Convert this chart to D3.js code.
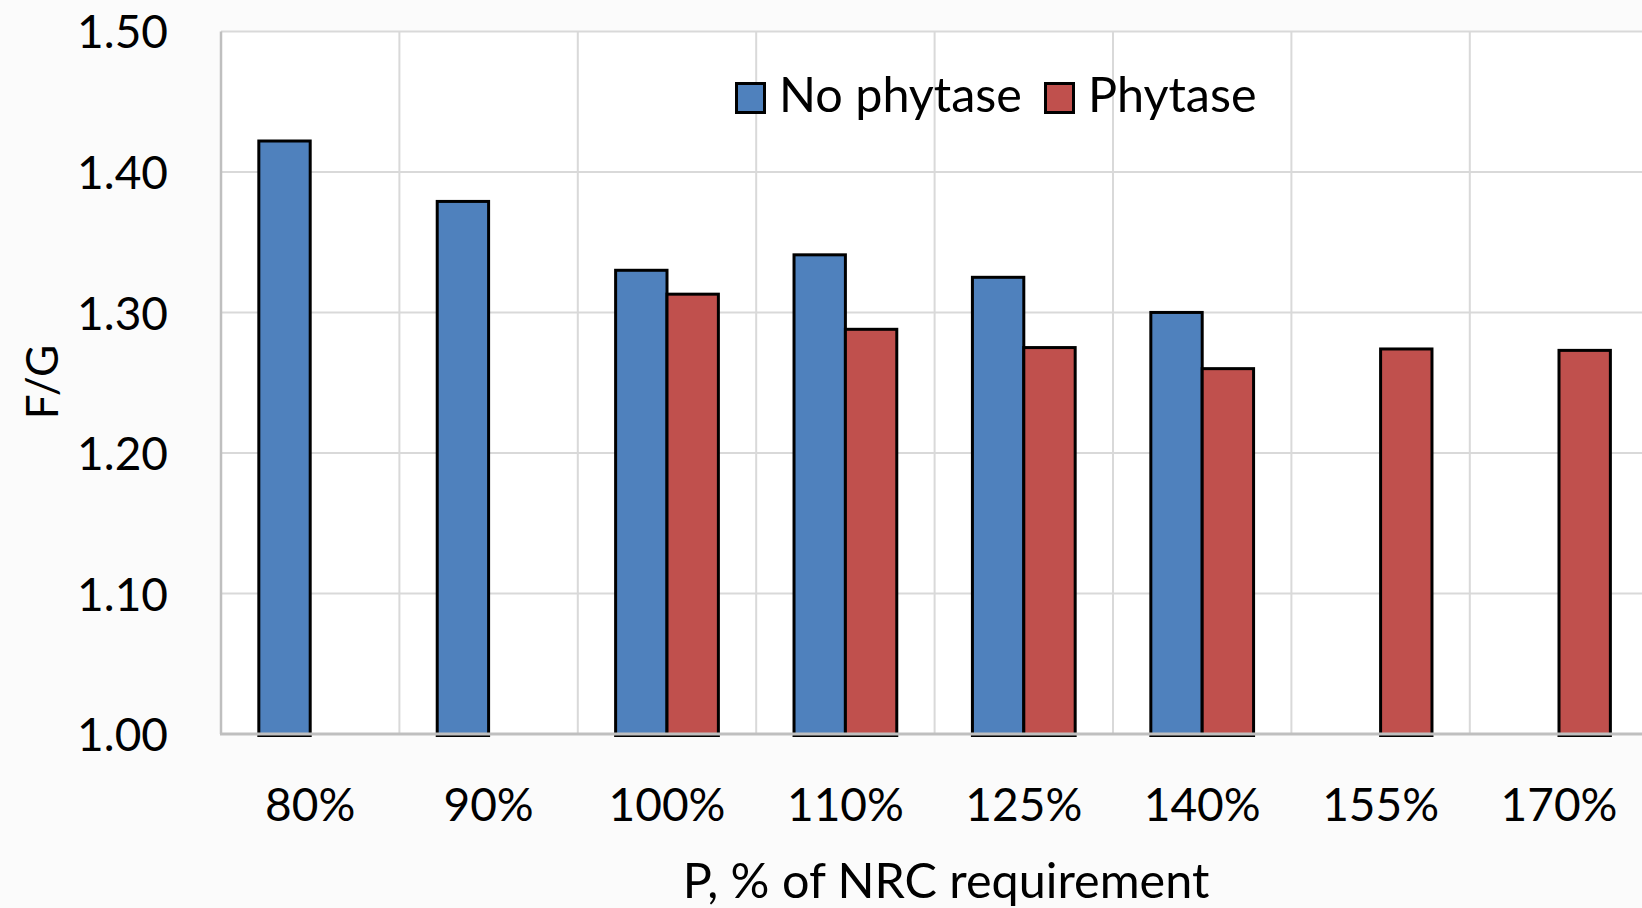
<!DOCTYPE html>
<html>
<head>
<meta charset="utf-8">
<script src="https://cdn.jsdelivr.net/npm/d3@7"></script>
<style>
  html, body { margin: 0; padding: 0; background: #fbfbfb; }
  svg { display: block; }
  text { font-family: Lato, "Open Sans", sans-serif; fill: #000; }
</style>
</head>
<body>
<svg id="chart" width="1642" height="908"></svg>
<script>
const categories = ["80%", "90%", "100%", "110%", "125%", "140%", "155%", "170%"];
const seriesNames = ["No phytase", "Phytase"];
const noPhytase = [1.422, 1.379, 1.330, 1.341, 1.325, 1.300, null, null];
const phytase   = [null, null, 1.313, 1.288, 1.275, 1.260, 1.274, 1.273];
const yTicks = [1.00, 1.10, 1.20, 1.30, 1.40, 1.50];
const colors = ["#4f81bd", "#c0504d"];
const yTitle = "F/G";
const xTitle = "P, % of NRC requirement";

(function () {
const svg = d3.select("#chart");
const pL = 221, pR = 221 + 8 * 178.4, pT = 31.4, pB = 734;

const x = d3.scaleBand().domain(categories).range([pL, pR]).padding(0);
const bw = x.bandwidth();
const barW = bw * 0.288;
const xSub = d3.scaleBand().domain(seriesNames).range([bw / 2 - barW, bw / 2 + barW]).padding(0);
const y = d3.scaleLinear().domain([1.0, 1.5]).range([pB, pT]);
const color = d3.scaleOrdinal().domain(seriesNames).range(colors);

// plot background
svg.append("rect").attr("x", pL).attr("y", pT).attr("width", pR - pL).attr("height", pB - pT).attr("fill", "#ffffff");

// horizontal gridlines
svg.append("g").selectAll("line").data(yTicks.filter(t => t > 1.0)).join("line")
  .attr("x1", pL).attr("x2", pR)
  .attr("y1", d => y(d)).attr("y2", d => y(d))
  .attr("stroke", "#d9d9d9").attr("stroke-width", 2);

// vertical gridlines at category boundaries
svg.append("g").selectAll("line").data(categories.slice(1)).join("line")
  .attr("x1", d => x(d)).attr("x2", d => x(d))
  .attr("y1", pT).attr("y2", pB)
  .attr("stroke", "#d9d9d9").attr("stroke-width", 2);

// bars
const rows = [];
categories.forEach((c, i) => {
  [noPhytase[i], phytase[i]].forEach((v, j) => {
    if (v != null) rows.push({ cat: c, series: seriesNames[j], value: v });
  });
});
svg.append("g").selectAll("rect").data(rows).join("rect")
  .attr("x", d => x(d.cat) + xSub(d.series))
  .attr("width", xSub.bandwidth())
  .attr("y", d => y(d.value))
  .attr("height", d => y(1.0) - y(d.value) + 1.5)
  .attr("fill", d => color(d.series))
  .attr("stroke", "#000").attr("stroke-width", 3);

// axes lines
svg.append("line").attr("x1", pL).attr("x2", pL).attr("y1", pT).attr("y2", pB)
  .attr("stroke", "#bfbfbf").attr("stroke-width", 2.5);
svg.append("line").attr("x1", pL - 1).attr("x2", pR).attr("y1", pB).attr("y2", pB)
  .attr("stroke", "#bfbfbf").attr("stroke-width", 3);

// y axis labels
const yAxis = d3.axisLeft(y).tickValues(yTicks).tickFormat(d3.format(".2f")).tickSize(0).tickPadding(53);
const gy = svg.append("g").attr("transform", `translate(${pL},0)`).call(yAxis);
gy.select(".domain").remove();
gy.selectAll("text").style("font-size", "46px").style("font-family", "Lato").attr("fill", "#000").attr("dy", "0.36em");

// x axis labels
const xAxis = d3.axisBottom(x).tickSize(0).tickPadding(0);
const gx = svg.append("g").attr("transform", `translate(0,804)`).call(xAxis);
gx.select(".domain").remove();
gx.selectAll("text").style("font-size", "46px").style("font-family", "Lato").attr("fill", "#000").attr("dy", "0.36em").attr("y", 0);

// axis titles
svg.append("text").attr("transform", "translate(58,382) rotate(-90)")
  .attr("text-anchor", "middle").style("font-size", "44px").text(yTitle);
svg.append("text").attr("x", 946).attr("y", 898)
  .attr("text-anchor", "middle").style("font-size", "48.5px").text(xTitle);

// legend
const legendX = [735, 1044];
const lg = svg.append("g").selectAll("g").data(seriesNames).join("g")
  .attr("transform", (d, i) => `translate(${legendX[i]},82)`);
lg.append("rect").attr("x", 1.5).attr("y", 1.5).attr("width", 28).attr("height", 29)
  .attr("fill", d => color(d)).attr("stroke", "#000").attr("stroke-width", 3);
lg.append("text").attr("x", 44).attr("y", 13).attr("dy", "0.36em")
  .style("font-size", "48.5px").text(d => d);
})();
</script>
</body>
</html>
